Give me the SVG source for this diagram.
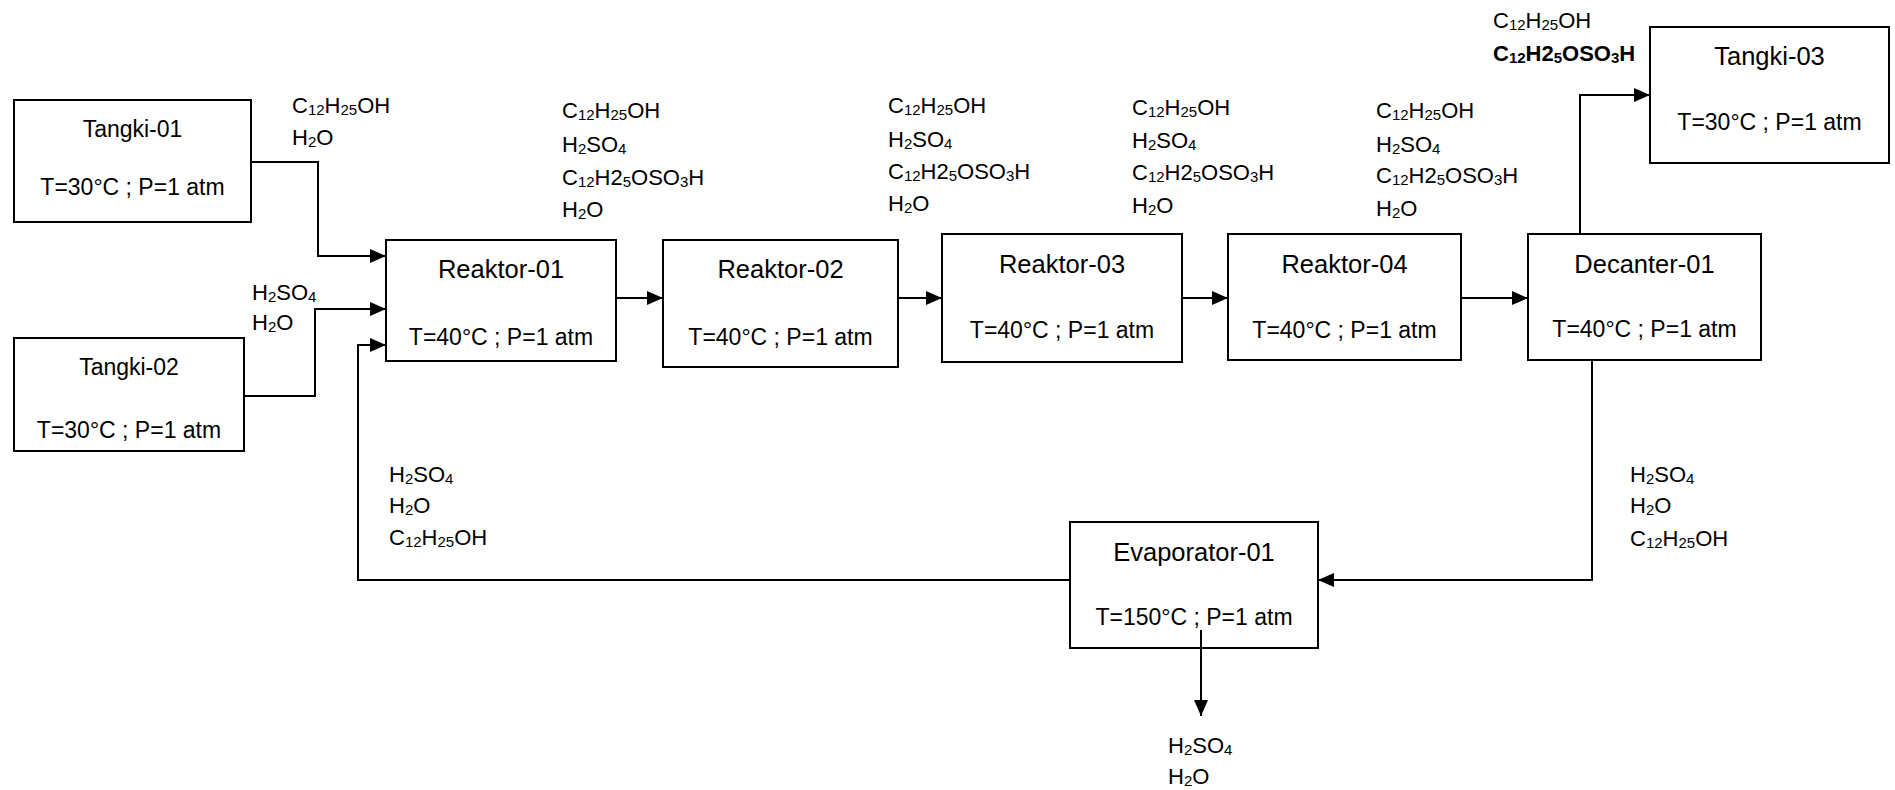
<svg xmlns="http://www.w3.org/2000/svg" width="1895" height="790" viewBox="0 0 1895 790">
<style>
text{font-family:"Liberation Sans",Arial,sans-serif;fill:#000}
.t{font-size:23px;text-anchor:middle}
.h{font-size:25.5px;text-anchor:middle}
.l{font-size:22px}
.b{font-size:15px}
.bold{font-weight:bold}
.box{fill:#fff;stroke:#000;stroke-width:2}
.c{fill:none;stroke:#000;stroke-width:2}
</style>
<defs>
<marker id="ah" markerUnits="userSpaceOnUse" markerWidth="16" markerHeight="14" refX="16" refY="7" orient="auto">
<path d="M0,0 L16,7 L0,14 z" fill="#000"/>
</marker>
</defs>
<rect width="1895" height="790" fill="#fff"/>
<g id="connectors">
<path class="c" d="M251,162 H318 V256 H386" marker-end="url(#ah)"/>
<path class="c" d="M244,396 H315 V309 H386" marker-end="url(#ah)"/>
<path class="c" d="M1070,580 H358 V345 H386" marker-end="url(#ah)"/>
<path class="c" d="M616,298 H663" marker-end="url(#ah)"/>
<path class="c" d="M898,298 H942" marker-end="url(#ah)"/>
<path class="c" d="M1182,298 H1228" marker-end="url(#ah)"/>
<path class="c" d="M1461,298 H1528" marker-end="url(#ah)"/>
<path class="c" d="M1580,234 V95 H1650" marker-end="url(#ah)"/>
<path class="c" d="M1592,360 V580 H1318" marker-end="url(#ah)"/>
</g>
<g id="tangki-01">
<rect class="box" x="14" y="100" width="237" height="122"/>
<text class="t" x="132.5" y="137">Tangki-01</text>
<text class="t" x="132.5" y="195">T=30°C ; P=1 atm</text>
</g>
<g id="tangki-02">
<rect class="box" x="14" y="338" width="230" height="113"/>
<text class="t" x="129" y="375">Tangki-02</text>
<text class="t" x="129" y="438">T=30°C ; P=1 atm</text>
</g>
<g id="reaktor-01">
<rect class="box" x="386" y="240" width="230" height="121"/>
<text class="h" x="501" y="278">Reaktor-01</text>
<text class="t" x="501" y="345">T=40°C ; P=1 atm</text>
</g>
<g id="reaktor-02">
<rect class="box" x="663" y="240" width="235" height="127"/>
<text class="h" x="780.5" y="278">Reaktor-02</text>
<text class="t" x="780.5" y="345">T=40°C ; P=1 atm</text>
</g>
<g id="reaktor-03">
<rect class="box" x="942" y="234" width="240" height="128"/>
<text class="h" x="1062" y="273">Reaktor-03</text>
<text class="t" x="1062" y="338">T=40°C ; P=1 atm</text>
</g>
<g id="reaktor-04">
<rect class="box" x="1228" y="234" width="233" height="126"/>
<text class="h" x="1344.5" y="273">Reaktor-04</text>
<text class="t" x="1344.5" y="338">T=40°C ; P=1 atm</text>
</g>
<g id="decanter-01">
<rect class="box" x="1528" y="234" width="233" height="126"/>
<text class="h" x="1644.5" y="273">Decanter-01</text>
<text class="t" x="1644.5" y="337">T=40°C ; P=1 atm</text>
</g>
<g id="tangki-03">
<rect class="box" x="1650" y="27" width="239" height="136"/>
<text class="h" x="1769.5" y="65">Tangki-03</text>
<text class="t" x="1769.5" y="130">T=30°C ; P=1 atm</text>
</g>
<g id="evaporator-01">
<rect class="box" x="1070" y="522" width="248" height="126"/>
<text class="h" x="1194" y="561">Evaporator-01</text>
<text class="t" x="1194" y="625">T=150°C ; P=1 atm</text>
</g>
<path class="c" d="M1201,630 V716" marker-end="url(#ah)"/>
<g id="labels">
<text class="l" x="292" y="113">C<tspan class="b" dy="2">12</tspan><tspan dy="-2">H</tspan><tspan class="b" dy="2">25</tspan><tspan dy="-2">OH</tspan></text>
<text class="l" x="292" y="145">H<tspan class="b" dy="2">2</tspan><tspan dy="-2">O</tspan></text>
<text class="l" x="252" y="300">H<tspan class="b" dy="2">2</tspan><tspan dy="-2">SO</tspan><tspan class="b" dy="2">4</tspan></text>
<text class="l" x="252" y="330">H<tspan class="b" dy="2">2</tspan><tspan dy="-2">O</tspan></text>

<text class="l" x="562" y="118">C<tspan class="b" dy="2">12</tspan><tspan dy="-2">H</tspan><tspan class="b" dy="2">25</tspan><tspan dy="-2">OH</tspan></text>
<text class="l" x="562" y="152">H<tspan class="b" dy="2">2</tspan><tspan dy="-2">SO</tspan><tspan class="b" dy="2">4</tspan></text>
<text class="l" x="562" y="185">C<tspan class="b" dy="2">12</tspan><tspan dy="-2">H2</tspan><tspan class="b" dy="2">5</tspan><tspan dy="-2">OSO</tspan><tspan class="b" dy="2">3</tspan><tspan dy="-2">H</tspan></text>
<text class="l" x="562" y="217">H<tspan class="b" dy="2">2</tspan><tspan dy="-2">O</tspan></text>

<text class="l" x="888" y="113">C<tspan class="b" dy="2">12</tspan><tspan dy="-2">H</tspan><tspan class="b" dy="2">25</tspan><tspan dy="-2">OH</tspan></text>
<text class="l" x="888" y="147">H<tspan class="b" dy="2">2</tspan><tspan dy="-2">SO</tspan><tspan class="b" dy="2">4</tspan></text>
<text class="l" x="888" y="179">C<tspan class="b" dy="2">12</tspan><tspan dy="-2">H2</tspan><tspan class="b" dy="2">5</tspan><tspan dy="-2">OSO</tspan><tspan class="b" dy="2">3</tspan><tspan dy="-2">H</tspan></text>
<text class="l" x="888" y="211">H<tspan class="b" dy="2">2</tspan><tspan dy="-2">O</tspan></text>

<text class="l" x="1132" y="115">C<tspan class="b" dy="2">12</tspan><tspan dy="-2">H</tspan><tspan class="b" dy="2">25</tspan><tspan dy="-2">OH</tspan></text>
<text class="l" x="1132" y="148">H<tspan class="b" dy="2">2</tspan><tspan dy="-2">SO</tspan><tspan class="b" dy="2">4</tspan></text>
<text class="l" x="1132" y="180">C<tspan class="b" dy="2">12</tspan><tspan dy="-2">H2</tspan><tspan class="b" dy="2">5</tspan><tspan dy="-2">OSO</tspan><tspan class="b" dy="2">3</tspan><tspan dy="-2">H</tspan></text>
<text class="l" x="1132" y="213">H<tspan class="b" dy="2">2</tspan><tspan dy="-2">O</tspan></text>

<text class="l" x="1376" y="118">C<tspan class="b" dy="2">12</tspan><tspan dy="-2">H</tspan><tspan class="b" dy="2">25</tspan><tspan dy="-2">OH</tspan></text>
<text class="l" x="1376" y="152">H<tspan class="b" dy="2">2</tspan><tspan dy="-2">SO</tspan><tspan class="b" dy="2">4</tspan></text>
<text class="l" x="1376" y="183">C<tspan class="b" dy="2">12</tspan><tspan dy="-2">H2</tspan><tspan class="b" dy="2">5</tspan><tspan dy="-2">OSO</tspan><tspan class="b" dy="2">3</tspan><tspan dy="-2">H</tspan></text>
<text class="l" x="1376" y="216">H<tspan class="b" dy="2">2</tspan><tspan dy="-2">O</tspan></text>

<text class="l" x="1493" y="28">C<tspan class="b" dy="2">12</tspan><tspan dy="-2">H</tspan><tspan class="b" dy="2">25</tspan><tspan dy="-2">OH</tspan></text>
<text class="l bold" x="1493" y="61">C<tspan class="b" dy="2">12</tspan><tspan dy="-2">H2</tspan><tspan class="b" dy="2">5</tspan><tspan dy="-2">OSO</tspan><tspan class="b" dy="2">3</tspan><tspan dy="-2">H</tspan></text>

<text class="l" x="389" y="482">H<tspan class="b" dy="2">2</tspan><tspan dy="-2">SO</tspan><tspan class="b" dy="2">4</tspan></text>
<text class="l" x="389" y="513">H<tspan class="b" dy="2">2</tspan><tspan dy="-2">O</tspan></text>
<text class="l" x="389" y="545">C<tspan class="b" dy="2">12</tspan><tspan dy="-2">H</tspan><tspan class="b" dy="2">25</tspan><tspan dy="-2">OH</tspan></text>

<text class="l" x="1630" y="482">H<tspan class="b" dy="2">2</tspan><tspan dy="-2">SO</tspan><tspan class="b" dy="2">4</tspan></text>
<text class="l" x="1630" y="513">H<tspan class="b" dy="2">2</tspan><tspan dy="-2">O</tspan></text>
<text class="l" x="1630" y="546">C<tspan class="b" dy="2">12</tspan><tspan dy="-2">H</tspan><tspan class="b" dy="2">25</tspan><tspan dy="-2">OH</tspan></text>

<text class="l" x="1168" y="753">H<tspan class="b" dy="2">2</tspan><tspan dy="-2">SO</tspan><tspan class="b" dy="2">4</tspan></text>
<text class="l" x="1168" y="784">H<tspan class="b" dy="2">2</tspan><tspan dy="-2">O</tspan></text>
</g>
</svg>
